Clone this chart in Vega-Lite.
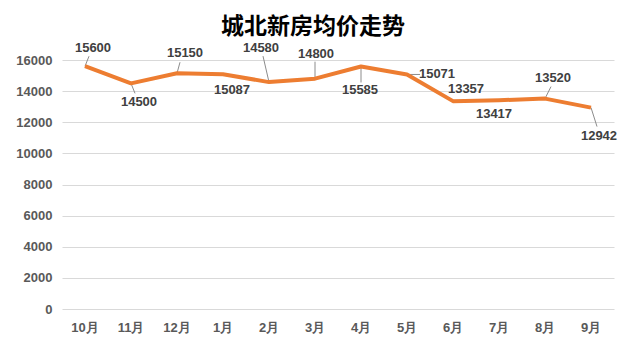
{
  "$schema": "https://vega.github.io/schema/vega-lite/v6.json",
  "autosize": "none",
  "width": 552,
  "height": 249,
  "padding": {"left": 62, "top": 60, "right": 13, "bottom": 42},
  "background": "white",
  "title": {
    "text": "城北新房均价走势",
    "font": "Noto Sans CJK SC",
    "fontSize": 23,
    "fontWeight": "bold",
    "color": "#000000",
    "frame": "group",
    "anchor": "middle",
    "dx": -25,
    "offset": 3
  },
  "data": {
    "values": [
      {"month": "10月", "price": 15600},
      {"month": "11月", "price": 14500},
      {"month": "12月", "price": 15150},
      {"month": "1月", "price": 15087},
      {"month": "2月", "price": 14580},
      {"month": "3月", "price": 14800},
      {"month": "4月", "price": 15585},
      {"month": "5月", "price": 15071},
      {"month": "6月", "price": 13357},
      {"month": "7月", "price": 13417},
      {"month": "8月", "price": 13520},
      {"month": "9月", "price": 12942}
    ]
  },
  "encoding": {
    "x": {
      "field": "month",
      "type": "ordinal",
      "sort": null,
      "scale": {"type": "band", "paddingInner": 0, "paddingOuter": 0},
      "axis": {
        "title": null,
        "labelAngle": 0,
        "ticks": false,
        "domain": false,
        "labelPadding": 12,
        "labelFont": "Liberation Sans",
        "labelFontSize": 13,
        "labelFontWeight": "bold",
        "labelColor": "#595959"
      }
    },
    "y": {
      "field": "price",
      "type": "quantitative",
      "scale": {"domain": [0, 16000], "nice": false},
      "axis": {
        "title": null,
        "format": "d",
        "values": [0, 2000, 4000, 6000, 8000, 10000, 12000, 14000, 16000],
        "ticks": false,
        "domain": false,
        "labelPadding": 10,
        "labelFont": "Liberation Sans",
        "labelFontSize": 13,
        "labelFontWeight": "bold",
        "labelColor": "#595959",
        "gridColor": "#D9D9D9",
        "gridWidth": 1
      }
    }
  },
  "layer": [
    {
      "mark": {
        "type": "rule",
        "color": "#8C8C8C",
        "strokeWidth": 1,
        "x2Offset": {"expr": "({'10月':4,'11月':4,'12月':3,'2月':-6,'3月':0,'4月':0,'5月':13,'8月':6,'9月':6})[datum.month] || 0"},
        "y2Offset": {"expr": "({'10月':-10,'11月':10,'12月':-11,'2月':-26,'3月':-17,'4月':16,'5月':0,'8月':-12,'9月':19})[datum.month] || 0"}
      },
      "encoding": {
        "x2": {"field": "month"},
        "y2": {"field": "price"}
      }
    },
    {
      "mark": {
        "type": "line",
        "color": "#ED7D31",
        "strokeWidth": 4,
        "strokeJoin": "round"
      }
    },
    {
      "mark": {
        "type": "text",
        "font": "Liberation Sans",
        "fontSize": 13,
        "fontWeight": "bold",
        "color": "#404040",
        "align": "center",
        "baseline": "middle",
        "dx": {"expr": "({'10月':8,'11月':8,'12月':8,'1月':9,'2月':-8,'3月':1,'4月':-1,'5月':30,'6月':13,'7月':-5,'8月':8,'9月':8})[datum.month]"},
        "dy": {"expr": "({'10月':-18,'11月':19,'12月':-20,'1月':16,'2月':-34,'3月':-25,'4月':24,'5月':0,'6月':-12,'7月':14,'8月':-21,'9月':28})[datum.month]"}
      },
      "encoding": {
        "text": {"field": "price", "type": "quantitative", "format": "d"}
      }
    }
  ],
  "config": {
    "view": {"stroke": null}
  }
}
